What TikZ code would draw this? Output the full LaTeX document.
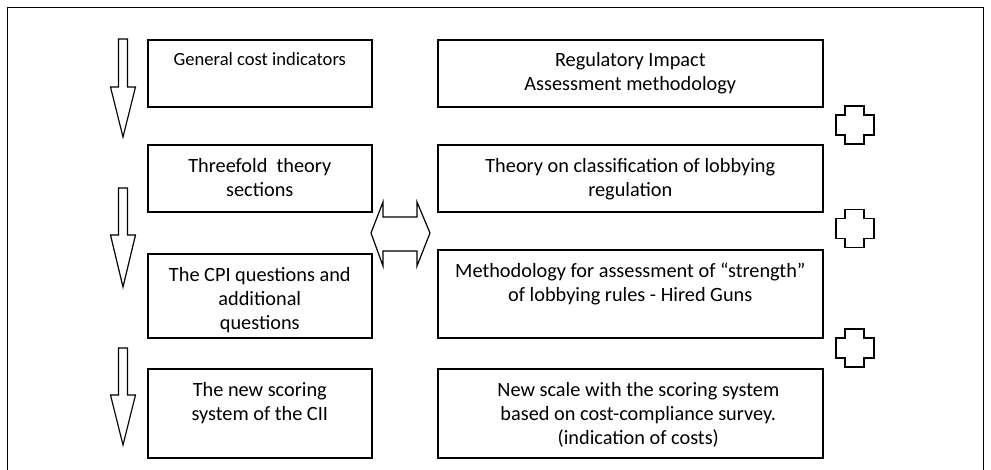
\documentclass[tikz,border=0pt]{standalone}
\usepackage{fontspec}
\setmainfont{Carlito}
\usetikzlibrary{positioning}

\begin{document}
\begin{tikzpicture}[x=1pt,y=-1pt,
        box/.style={draw,line width=1.6pt,minimum width=224pt,anchor=north west,inner sep=0pt},
        wide box/.style={box,minimum width=385pt},
        box text/.style={anchor=north,align=center,inner sep=0pt,font=\fontsize{20.3}{24}\selectfont},
        block/.style={draw,line width=1.2pt,line join=miter}]

        \useasboundingbox (0,0) rectangle (991,470);

        % Outer frame
        \draw[line width=1pt] (7,470) -- (7,8) -- (983,8) -- (983,470);

        % Left column
        \node[box,minimum height=67pt] (L1) at (147,39) {};
        \node[box,minimum height=67pt] (L2) at (147,144) {};
        \node[box,minimum height=84pt] (L3) at (147,253) {};
        \node[box,minimum height=89pt] (L4) at (147,368) {};

        % Right column
        \node[wide box,minimum height=67pt] (R1) at (437,39) {};
        \node[wide box,minimum height=67pt] (R2) at (437,144) {};
        \node[wide box,minimum height=88pt] (R3) at (437,249) {};
        \node[wide box,minimum height=89pt] (R4) at (437,368) {};

        % Texts
        \node[box text,font=\fontsize{18.6}{24}\selectfont] (L1 text) at ([yshift=-13pt]L1.north) {General cost indicators};
        \node[box text] (L2 text) at ([yshift=-14pt]L2.north) {Threefold~ theory\\sections};
        \node[box text] (L3 text) at ([yshift=-14pt]L3.north) {The CPI questions and\\additional\\questions};
        \node[box text] (L4 text) at ([yshift=-14pt]L4.north) {The new scoring\\system of the CII};
        \node[box text] (R1 text) at ([yshift=-13pt]R1.north) {Regulatory Impact\\Assessment methodology};
        \node[box text] (R2 text) at ([yshift=-14pt]R2.north) {Theory on classification of lobbying\\regulation};
        \node[box text] (R3 text) at ([yshift=-14pt]R3.north) {Methodology for assessment of “strength”\\of lobbying rules - Hired Guns};
        \node[box text] (R4 text) at ([xshift=8pt,yshift=-14pt]R4.north) {New scale with the scoring system\\based on cost-compliance survey.\\(indication of costs)};

        % Down arrows
        \foreach \t/\h/\e in {39/87/137, 188/235/287, 348/395/445}
            \draw[block] (118.5,\t) -- (127.5,\t) -- (127.5,\h) -- (135.5,\h) -- (123,\e)
                -- (110.5,\h) -- (118.5,\h) -- cycle;

        % Double arrow
        \draw[block] (371,233) -- (383,202) -- (383,217) -- (417,217) -- (417,202) -- (430,233)
            -- (417,266) -- (417,251) -- (383,251) -- (383,266) -- cycle;

        % Plus signs
        \foreach \c in {125,228.5,348}
            \draw[block] (845,\c-19) -- (864,\c-19) -- (864,\c-10) -- (874,\c-10) -- (874,\c+10)
                -- (864,\c+10) -- (864,\c+19) -- (845,\c+19) -- (845,\c+10) -- (836,\c+10)
                -- (836,\c-10) -- (845,\c-10) -- cycle;

\end{tikzpicture}
\end{document}
